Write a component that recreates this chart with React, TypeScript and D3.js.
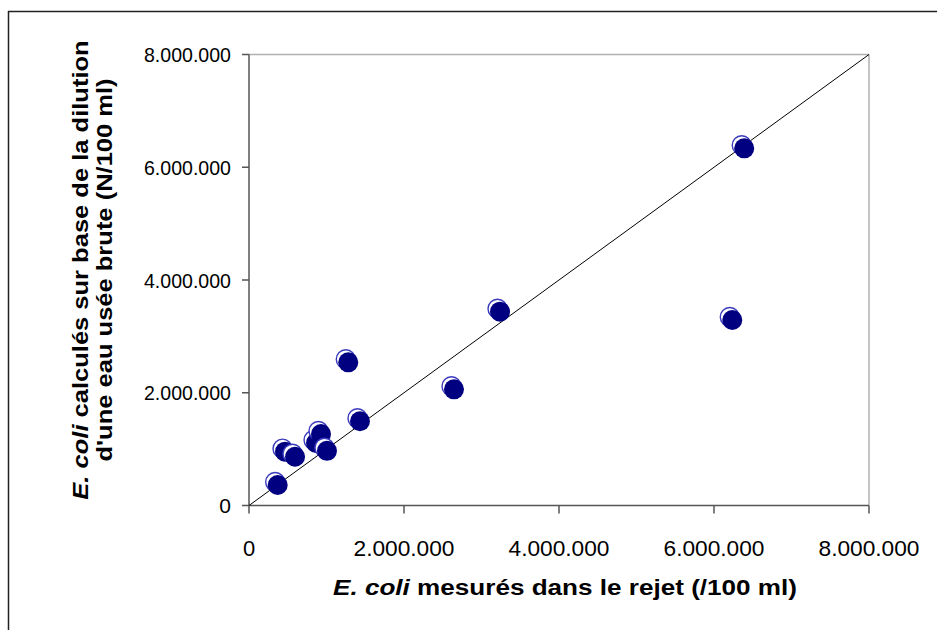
import React from "react";
import * as d3 from "d3";

const xValues = [370000, 465000, 594000, 865000, 929000, 1006000, 1432000, 1281000, 2645000, 3239000, 6236000, 6390000];
const yValues = [364000, 955000, 865000, 1110000, 1267000, 970000, 1495000, 2540000, 2061000, 3438000, 3290000, 6336000];
const tickValues = [0, 2000000, 4000000, 6000000, 8000000];
const xTitleItalic = "E. coli";
const xTitleRest = "  mesurés dans le rejet (/100 ml)";
const yTitleItalic = "E. coli";
const yTitleRest1 = " calculés sur base de la dilution";
const yTitle2 = "d'une eau usée brute (N/100 ml)";

const W = 937;
const H = 630;
const left = 249;
const right = 869;
const top = 54.5;
const bottom = 505.5;

const fmt = (v: number) => (v === 0 ? "0" : d3.format(",")(v).replace(/,/g, "."));

export default function App() {
  const x = d3.scaleLinear().domain([0, 8000000]).range([left, right]);
  const y = d3.scaleLinear().domain([0, 8000000]).range([bottom, top]);
  const font = "'Liberation Sans', Arial, sans-serif";
  const pts = xValues.map((v, i) => ({ x: v, y: yValues[i] }));
  return (
    <svg width={W} height={H} style={{ position: "absolute", left: 0, top: 0, background: "#fff" }} fontFamily={font}>
      <rect x={0} y={0} width={W} height={H} fill="#fff" />
      {/* outer frame */}
      <line x1={8.5} y1={11} x2={8.5} y2={H} stroke="#222" strokeWidth={1.5} />
      <line x1={8} y1={11.5} x2={W} y2={11.5} stroke="#222" strokeWidth={1.5} />
      {/* plot border top/right */}
      <line x1={left} y1={top} x2={right} y2={top} stroke="#b0b0b0" strokeWidth={1.5} />
      <line x1={right} y1={top} x2={right} y2={bottom} stroke="#b0b0b0" strokeWidth={1.5} />
      {/* axes */}
      <line x1={left} y1={top} x2={left} y2={bottom} stroke="#555" strokeWidth={1.5} />
      <line x1={left} y1={bottom} x2={right} y2={bottom} stroke="#555" strokeWidth={1.5} />
      {tickValues.map((t) => (
        <g key={"y" + t}>
          <line x1={left - 7} x2={left} y1={y(t)} y2={y(t)} stroke="#555" strokeWidth={1.5} />
          <text x={left - 18} y={y(t)} dy="0.36em" textAnchor="end" fontSize={21} fill="#000"
            textLength={t === 0 ? undefined : 87} lengthAdjust="spacingAndGlyphs">
            {fmt(t)}
          </text>
        </g>
      ))}
      {tickValues.map((t) => (
        <g key={"x" + t}>
          <line x1={x(t)} x2={x(t)} y1={bottom} y2={bottom + 8} stroke="#555" strokeWidth={1.5} />
          <text x={x(t)} y={bottom + 50} textAnchor="middle" fontSize={22} fill="#000"
            textLength={t === 0 ? undefined : 101} lengthAdjust="spacingAndGlyphs">
            {fmt(t)}
          </text>
        </g>
      ))}
      {/* identity line */}
      <line x1={x(0)} y1={y(0)} x2={x(8000000)} y2={y(8000000)} stroke="#000" strokeWidth={1} />
      {/* points */}
      {pts.map((p, i) => (
        <g key={i}>
          <circle cx={x(p.x) - 2.5} cy={y(p.y) - 3} r={9.5} fill="#fff" stroke="#3b3bbf" strokeWidth={1.4} />
          <circle cx={x(p.x)} cy={y(p.y)} r={10} fill="#000080" />
        </g>
      ))}
      {/* x title */}
      <text x={565} y={595} textAnchor="middle" fontSize={22} fontWeight="bold" fill="#000"
        textLength={464} lengthAdjust="spacingAndGlyphs">
        <tspan fontStyle="italic">{xTitleItalic}</tspan>
        <tspan>{xTitleRest}</tspan>
      </text>
      {/* y title */}
      <g transform={`translate(88, 270) rotate(-90) scale(1.16, 1)`}>
        <text x={0} y={0} textAnchor="middle" fontSize={22} fontWeight="bold" fill="#000">
          <tspan fontStyle="italic">{yTitleItalic}</tspan>
          <tspan>{yTitleRest1}</tspan>
        </text>
        <text x={0} y={24} textAnchor="middle" fontSize={22} fontWeight="bold" fill="#000">
          {yTitle2}
        </text>
      </g>
    </svg>
  );
}
